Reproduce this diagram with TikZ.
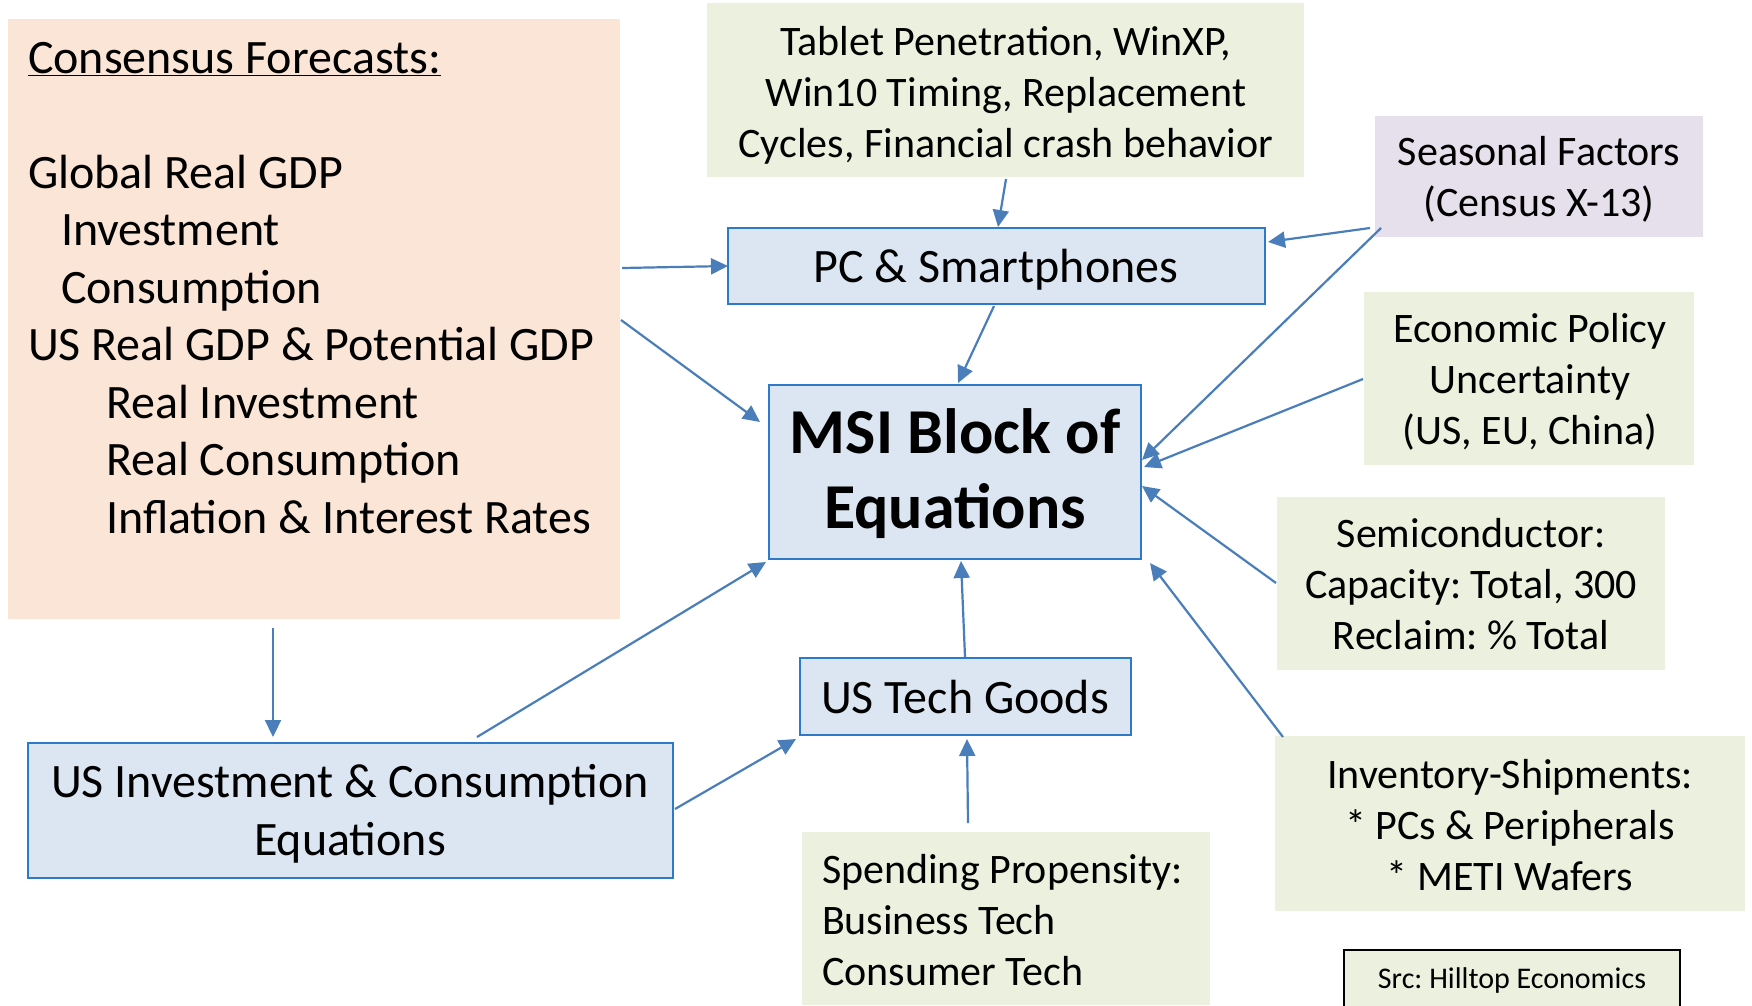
\documentclass[tikz,border=0pt]{standalone}
\usepackage{fontspec}
\setmainfont{Carlito}
\frenchspacing
\usetikzlibrary{arrows.meta,calc}
\definecolor{peach}{HTML}{FBE5D6}
\definecolor{olive}{HTML}{EBF1DE}
\definecolor{lilac}{HTML}{E6E0EC}
\definecolor{paleblue}{HTML}{DCE6F2}
\definecolor{edgeblue}{HTML}{2C7AC9}
\definecolor{linkblue}{HTML}{4A7EBB}

\begin{document}
\begin{tikzpicture}[x=1pt,y=-1pt,
  panel/.style={anchor=north west, inner sep=0pt, outer sep=0pt},
  modelbox/.style={panel, draw=edgeblue, line width=2.6pt, fill=paleblue},
  txt/.style={inner sep=0pt, outer sep=0pt, anchor=base, align=center},
  big/.style={font=\fontsize{48}{57.5}\selectfont},
  mid/.style={font=\fontsize{42}{51}\selectfont},
  link/.style={draw=linkblue, line width=2.2pt, -{Triangle[length=17pt,width=16pt]}},
]
\useasboundingbox (0,0) rectangle (1752,1005);

% ---- panels ----
\node[panel, fill=peach, minimum width=612, minimum height=600] (cons) at (8,19) {};
\node[panel, fill=olive, minimum width=597, minimum height=174] (tablet) at (707,3) {};
\node[panel, fill=lilac, minimum width=328, minimum height=121] (seasonal) at (1375,116) {};
\node[panel, fill=olive, minimum width=330, minimum height=173] (econ) at (1364,292) {};
\node[panel, fill=olive, minimum width=388, minimum height=173] (semi) at (1277,497) {};
\node[panel, fill=olive, minimum width=470, minimum height=175] (inv) at (1275,736) {};
\node[panel, fill=olive, minimum width=408, minimum height=173] (spend) at (802,832) {};
\node[panel, fill=olive, draw=black, line width=2pt, minimum width=336, minimum height=70] (src) at (1344,950) {};

\node[modelbox, minimum width=537, minimum height=76] (pc) at (728,228) {};
\node[modelbox, minimum width=372, minimum height=174] (msi) at (769,385) {};
\node[modelbox, minimum width=331, minimum height=77] (tech) at (800,658) {};
\node[modelbox, minimum width=645, minimum height=135] (usinv) at (28,743) {};

% ---- texts (multi-line nodes sit on the baseline of their last line) ----
\node[txt, big, anchor=base west, align=left] (constext) at (28,533)
  {\underline{Consensus Forecasts:}\\[57.5pt]
   Global Real GDP\\
   \hspace*{33pt}Investment\\
   \hspace*{33pt}Consumption\\
   US Real GDP \& Potential GDP\\
   \hspace*{78pt}Real Investment\\
   \hspace*{78pt}Real Consumption\\
   \hspace*{78pt}Inflation \& Interest Rates};
\node[txt, mid] (tablettext) at (1006,157)
  {Tablet Penetration, WinXP,\\Win10 Timing, Replacement\\Cycles, Financial crash behavior};
\node[txt, mid] (seasonaltext) at (1539,216) {Seasonal Factors\\(Census X-13)};
\node[txt, big] (pctext) at (996,282) {PC \& Smartphones};
\node[txt, font=\fontsize{64}{75}\selectfont\bfseries] (msitext) at (955,528) {MSI Block of\\Equations};
\node[txt, mid] (econtext) at (1530,444) {Economic Policy\\Uncertainty\\(US, EU, China)};
\node[txt, mid] (semitext) at (1471,649) {Semiconductor:\\Capacity: Total, 300\\Reclaim: \% Total};
\node[txt, big] (techtext) at (965,713) {US Tech Goods};
\node[txt, big] (usinvtext) at (350,855) {US Investment \& Consumption\\Equations};
\node[txt, mid, anchor=base west, align=left] (spendtext) at (822,985)
  {Spending Propensity:\\Business Tech\\Consumer Tech};
\node[txt, mid] (invtext) at (1510,890) {Inventory-Shipments:\\* PCs \& Peripherals\\* METI Wafers};
\node[txt, font=\fontsize{30}{36}\selectfont] (srctext) at (1512,988) {Src: Hilltop Economics};

% ---- connectors ----
\draw[link] ($(cons.north east)+(2,249)$) -- ($(pc.north west)+(0,38)$);
\draw[link] ($(cons.north east)+(1,301)$) -- ($(msi.north west)+(-9,37)$);
\draw[link] ($(cons.south west)+(265,9)$) -- ($(usinv.north west)+(245,-6)$);
\draw[link] ($(tablet.south west)+(299,2)$) -- ($(pc.north west)+(270,-1)$);
\draw[link] ($(pc.south west)+(266,2)$) -- ($(msi.north west)+(189,-2)$);
\draw[link] ($(seasonal.south west)+(-5,-9)$) -- ($(pc.north east)+(3,14)$);
\draw[link] ($(seasonal.south west)+(6,-9)$) -- ($(msi.north east)+(1,75)$);
\draw[link] ($(econ.north west)+(-1,87)$) -- ($(msi.north east)+(3,82)$);
\draw[link] ($(semi.north west)+(-1,86)$) -- ($(msi.north east)+(1,101)$);
\draw[link] ($(inv.north west)+(8,1)$) -- ($(msi.south east)+(9,4)$);
\draw[link] ($(tech.north west)+(165,-1)$) -- ($(msi.south west)+(192,2)$);
\draw[link] ($(usinv.north west)+(449,-6)$) -- ($(msi.south west)+(-3,3)$);
\draw[link] ($(usinv.north east)+(2,66)$) -- ($(tech.north west)+(-4,81)$);
\draw[link] ($(spend.north west)+(166,-9)$) -- ($(tech.south west)+(167,4)$);
\end{tikzpicture}
\end{document}
